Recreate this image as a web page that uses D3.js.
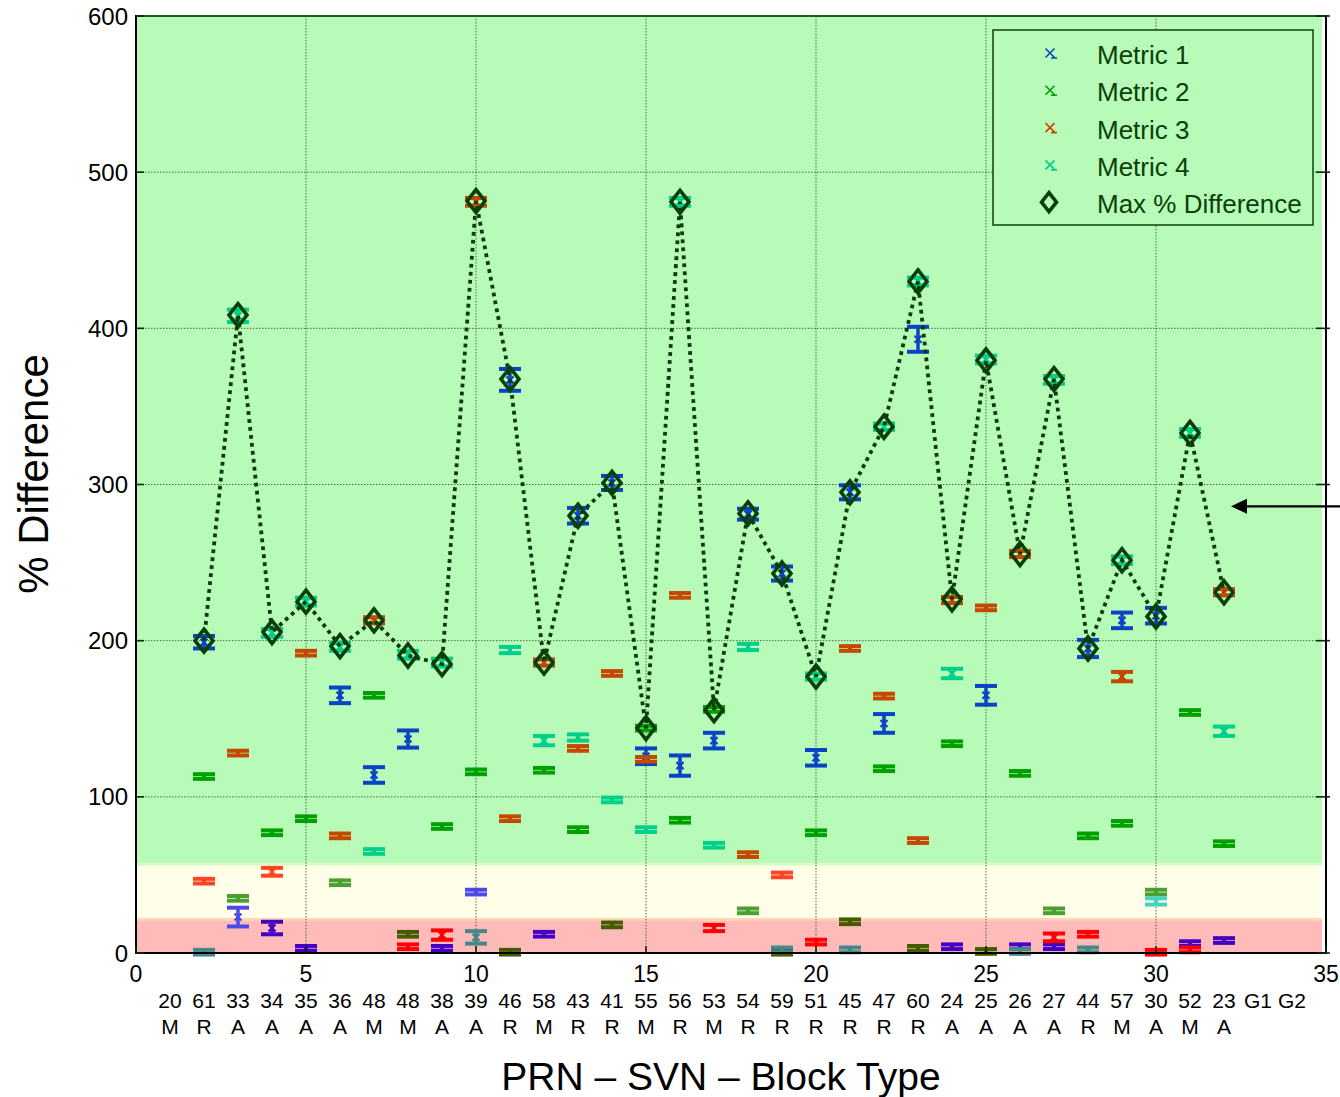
<!DOCTYPE html>
<html>
<head>
<meta charset="utf-8">
<script src="https://cdn.jsdelivr.net/npm/d3@7"></script>
<style>
  html, body { margin: 0; padding: 0; background: #ffffff; }
  svg { display: block; font-family: "Liberation Sans", Arial, Helvetica, sans-serif; }
</style>
</head>
<body>
<svg id="chart" width="1340" height="1097"></svg>
<script>
// ---- categories (PRN 1..34 along the x axis) ----
const svnLabels   = ["20","61","33","34","35","36","48","48","38","39","46","58","43","41","55","56","53",
                     "54","59","51","45","47","60","24","25","26","27","44","57","30","52","23","G1","G2"];
const blockLabels = ["M","R","A","A","A","A","M","M","A","A","R","M","R","R","M","R","M",
                     "R","R","R","R","R","R","A","A","A","A","R","M","A","M","A","",""];

// PRNs that carry measurements
const prns = d3.range(2, 33);

// ---- series values (% difference) and half-widths of their error bars ----
const m1    = [199, 23, 16, 3, 165, 114, 137, 3, 39, 367, 12, 280, 301, 126, 120, 136,
               281, 243, 125, 295, 147, 393, 4, 165, 4, 4, 195, 213, 216, 6, 8];
const m1Err = [4, 6, 4, 1.5, 5, 5, 5.5, 1.5, 1.5, 7, 1.5, 5, 4.5, 5, 6.5, 5,
               3.5, 4.5, 5, 4.5, 6, 8, 1.5, 6, 1.5, 1.5, 5.5, 5, 5, 1.5, 1.5];

const m2    = [113, 35, 77, 86, 45, 165, 12, 81, 116, 0.5, 117, 79, 18, 144, 85, 156,
               27, 0.5, 77, 20, 118, 3, 134, 1, 115, 27, 75, 83, 39, 154, 70];
const m2Err = [1.5, 1.5, 1.5, 1.5, 1.5, 1.5, 1.5, 1.5, 1.5, 1.5, 1.5, 1.5, 1.5, 1.5, 1.5, 1.5,
               1.5, 1.5, 1.5, 1.5, 1.5, 1.5, 1.5, 1.5, 1.5, 1.5, 1.5, 1.5, 1.5, 1.5, 1.5];

const m3    = [46, 128, 52, 192, 75, 213, 4, 11.5, 481, 86, 186, 131, 179, 124, 229, 16,
               63, 50, 7, 195, 164.5, 72, 226, 221, 255.5, 10, 12, 177, 0.5, 2, 231];
const m3Err = [1.5, 1.5, 2.5, 1.5, 1.5, 2, 1.5, 3, 2.5, 1.5, 2, 1.5, 1.5, 1.5, 1.5, 2,
               1.5, 1.5, 1.5, 1.5, 1.5, 1.5, 2, 1.5, 2, 2.5, 1.5, 3, 1.5, 1.5, 2];

const m4    = [0.5, 408, 205, 225, 196, 65, 191, 186, 10, 194, 136, 138, 98, 79, 481, 69,
               196, 2, 177, 2, 337, 430, 179, 380, 1, 367, 2, 251.5, 33, 333, 142];
const m4Err = [1.5, 4, 2.5, 2.5, 2.5, 1.5, 2.5, 2.5, 4, 2, 3, 2, 1.5, 1.5, 2.5, 1.5,
               2, 1.5, 2, 1.5, 2, 2.5, 3, 2.5, 1.5, 2.5, 1.5, 2.5, 2, 2.5, 3];

const maxDiff = [200, 408.5, 205.5, 225, 196.5, 213, 190.5, 185, 481.5, 367.5, 186, 280, 301, 144, 481, 155.5,
                 281.5, 243, 177, 295, 337, 430, 226.5, 379.5, 255.5, 367.5, 195, 251.5, 215.5, 333, 231];

// ---- axis ticks ----
const xTicks = [0, 5, 10, 15, 20, 25, 30, 35];
const yTicks = [0, 100, 200, 300, 400, 500, 600];

// ---- background quality bands (value limits) ----
const bandLimits = [0, 21.5, 57, 600];
const seriesNames = ["Metric 1", "Metric 2", "Metric 3", "Metric 4", "Max % Difference"];

// ---- styling ----
const bandFill = ["#ffbaba", "#fffee8", "#b8fbb8"];
// colour of each metric depends on the band its value falls in: [pink, yellow, green]
const metricColors = [
  ["#4400c4", "#4a4ae6", "#0a44c4"],
  ["#445c00", "#4aa030", "#00a000"],
  ["#ff0000", "#ff4426", "#c44800"],
  ["#448888", "#48d2c0", "#00d08a"]
];
const darkGreen = "#0b3d0b";

const W = 1340, H = 1097;
const pLeft = 136, pRight = 1326, pTop = 16, pBottom = 953;

const svg = d3.select("#chart");
const x = d3.scaleLinear().domain([0, 35]).range([pLeft, pRight]);
const y = d3.scaleLinear().domain([0, 600]).range([pBottom, pTop]);

const bandOf = v => (v < bandLimits[1] ? 0 : v < bandLimits[2] ? 1 : 2);

// ---- background bands ----
const bands = d3.range(3).map(i => ({ lo: bandLimits[i], hi: bandLimits[i + 1], fill: bandFill[i] }));
svg.append("g").selectAll("rect").data(bands).join("rect")
  .attr("x", pLeft + 1)
  .attr("width", pRight - pLeft - 5)
  .attr("y", d => y(d.hi))
  .attr("height", d => y(d.lo) - y(d.hi))
  .attr("fill", d => d.fill);
// soft seams between bands
svg.append("g").selectAll("rect").data([bandLimits[1], bandLimits[2]]).join("rect")
  .attr("x", pLeft + 1).attr("width", pRight - pLeft - 5)
  .attr("y", d => y(d) - 1.5).attr("height", 3)
  .attr("fill", (d, i) => (i === 0 ? "#ffd4b8" : "#d2fcc2"));

// ---- grid ----
const grid = svg.append("g").attr("stroke", "#3c5a3c").attr("stroke-width", 0.9)
  .attr("stroke-dasharray", "1.5,1.5");
grid.selectAll(".gx").data(xTicks.filter(t => t > 0 && t < 35)).join("line")
  .attr("x1", d => x(d)).attr("x2", d => x(d)).attr("y1", pTop).attr("y2", pBottom);
grid.selectAll(".gy").data(yTicks.filter(t => t > 0 && t < 600)).join("line")
  .attr("y1", d => y(d)).attr("y2", d => y(d)).attr("x1", pLeft).attr("x2", pRight);

// ---- metric error bars ----
const metricSeries = [
  { vals: m1, errs: m1Err },
  { vals: m2, errs: m2Err },
  { vals: m3, errs: m3Err },
  { vals: m4, errs: m4Err }
];
const capW = 11;
metricSeries.forEach((s, k) => {
  const pts = prns.map((p, i) => ({ p, v: s.vals[i], e: s.errs[i], c: metricColors[k][bandOf(s.vals[i])] }));
  const g = svg.append("g").attr("class", "metric-" + (k + 1));
  const eb = g.selectAll("g").data(pts).join("g")
    .attr("stroke", d => d.c).attr("fill", "none");
  eb.append("line")
    .attr("x1", d => x(d.p)).attr("x2", d => x(d.p))
    .attr("y1", d => y(d.v - d.e)).attr("y2", d => y(d.v + d.e))
    .attr("stroke-width", 3.5);
  eb.append("line")
    .attr("x1", d => x(d.p) - capW).attr("x2", d => x(d.p) + capW)
    .attr("y1", d => y(d.v - d.e)).attr("y2", d => y(d.v - d.e))
    .attr("stroke-width", 4);
  eb.append("line")
    .attr("x1", d => x(d.p) - capW).attr("x2", d => x(d.p) + capW)
    .attr("y1", d => y(d.v + d.e)).attr("y2", d => y(d.v + d.e))
    .attr("stroke-width", 4);
  // small cross at the value
  eb.append("path")
    .attr("d", d => {
      const cx = x(d.p), cy = y(d.v), r = 3.5;
      return `M${cx - r},${cy - r}L${cx + r},${cy + r}M${cx - r},${cy + r}L${cx + r},${cy - r}`;
    })
    .attr("stroke-width", 2.2);
});

// ---- max % difference: dotted connector and diamonds ----
const maxPts = prns.map((p, i) => ({ p, v: maxDiff[i] }));
svg.append("path")
  .datum(maxPts)
  .attr("d", d3.line().x(d => x(d.p)).y(d => y(d.v)))
  .attr("fill", "none")
  .attr("stroke", darkGreen)
  .attr("stroke-width", 3.8)
  .attr("stroke-dasharray", "3.8,4.2");

const diamond = (cx, cy, w, h) => `M${cx},${cy - h}L${cx + w},${cy}L${cx},${cy + h}L${cx - w},${cy}Z`;
svg.append("g").selectAll("path").data(maxPts).join("path")
  .attr("d", d => diamond(x(d.p), y(d.v), 9, 11.5))
  .attr("fill", "none")
  .attr("stroke", "#0a3f0a")
  .attr("stroke-width", 3.6);

// ---- frame and ticks ----
const frame = svg.append("g");
frame.append("line").attr("x1", pLeft + 0.5).attr("x2", pRight).attr("y1", pTop).attr("y2", pTop)
  .attr("stroke", "#1f5a1f").attr("stroke-width", 2);
frame.append("line").attr("x1", pLeft).attr("x2", pLeft).attr("y1", pTop - 1).attr("y2", pBottom + 1)
  .attr("stroke", "#000").attr("stroke-width", 2);
frame.append("line").attr("x1", pRight).attr("x2", pRight).attr("y1", pTop - 1).attr("y2", pBottom + 1)
  .attr("stroke", "#000").attr("stroke-width", 2);
frame.append("line").attr("x1", pLeft - 1).attr("x2", pRight + 1).attr("y1", pBottom).attr("y2", pBottom)
  .attr("stroke", "#000").attr("stroke-width", 2.2);

const tk = svg.append("g").attr("stroke", "#0a2a0a").attr("stroke-width", 1.6);
tk.selectAll(".tl").data(yTicks).join("line")
  .attr("x1", pLeft).attr("x2", pLeft + 8).attr("y1", d => y(d)).attr("y2", d => y(d));
tk.selectAll(".tr").data(yTicks).join("line")
  .attr("x1", pRight - 10).attr("x2", pRight + 4).attr("y1", d => y(d)).attr("y2", d => y(d));
tk.selectAll(".tb").data(xTicks).join("line")
  .attr("x1", d => x(d)).attr("x2", d => x(d)).attr("y1", pBottom).attr("y2", pBottom - 7);

// ---- tick labels ----
svg.append("g").selectAll("text").data(yTicks).join("text")
  .attr("x", pLeft - 8).attr("y", d => y(d) + 8.5)
  .attr("text-anchor", "end")
  .attr("font-size", 24).attr("fill", "#000")
  .text(d => d);
svg.append("g").selectAll("text").data(xTicks).join("text")
  .attr("x", d => x(d)).attr("y", pBottom + 29)
  .attr("text-anchor", "middle")
  .attr("font-size", 23).attr("fill", "#000")
  .text(d => d);

// ---- category labels (SVN and block type) ----
const cats = svnLabels.map((s, i) => ({ pos: i + 1, svn: s, block: blockLabels[i] }));
const catG = svg.append("g").attr("font-size", 21).attr("fill", "#000").attr("text-anchor", "middle");
catG.selectAll(".svn").data(cats).join("text")
  .attr("x", d => x(d.pos)).attr("y", 1008)
  .text(d => d.svn);
catG.selectAll(".blk").data(cats).join("text")
  .attr("x", d => x(d.pos)).attr("y", 1034)
  .text(d => d.block);

// ---- axis titles ----
svg.append("text")
  .attr("x", 721).attr("y", 1090)
  .attr("text-anchor", "middle")
  .attr("font-size", 39).attr("fill", "#000")
  .text("PRN \u2013 SVN \u2013 Block Type");
svg.append("text")
  .attr("transform", "translate(48,474) rotate(-90)")
  .attr("text-anchor", "middle")
  .attr("font-size", 42).attr("fill", "#000")
  .text("% Difference");

// ---- legend ----
const lg = svg.append("g");
lg.append("rect")
  .attr("x", 993).attr("y", 30).attr("width", 320).attr("height", 195)
  .attr("fill", bandFill[2]).attr("stroke", "#1a4a1a").attr("stroke-width", 1.6);
const legendRows = seriesNames.map((n, i) => ({ name: n, i, cy: 55 + i * 37.3 }));
lg.selectAll("text").data(legendRows).join("text")
  .attr("x", 1097).attr("y", d => d.cy + 9)
  .attr("font-size", 26).attr("fill", "#0a400a")
  .text(d => d.name);
lg.selectAll(".mk").data(legendRows.filter(d => d.i < 4)).join("path")
  .attr("d", d => {
    const cx = 1050, cy = d.cy - 2, r = 4.5;
    return `M${cx - r},${cy - r}L${cx + r},${cy + r}M${cx - r},${cy + r}L${cx + r},${cy - r}` +
           `M${cx + 1},${cy + r + 0.5}L${cx + 7},${cy + r + 0.5}`;
  })
  .attr("fill", "none")
  .attr("stroke", d => metricColors[d.i][2])
  .attr("stroke-width", 1.6);
lg.append("path")
  .attr("d", diamond(1049, legendRows[4].cy - 2, 7.5, 9.5))
  .attr("fill", "none").attr("stroke", "#0a3f0a").attr("stroke-width", 3.6);

// ---- pointer arrow on the right ----
const arrowY = y(286);
svg.append("line")
  .attr("x1", W).attr("x2", 1245).attr("y1", arrowY).attr("y2", arrowY)
  .attr("stroke", "#000").attr("stroke-width", 2.4);
svg.append("path")
  .attr("d", `M1231,${arrowY}L1247,${arrowY - 7.5}L1247,${arrowY + 7.5}Z`)
  .attr("fill", "#000");
</script>
</body>
</html>
